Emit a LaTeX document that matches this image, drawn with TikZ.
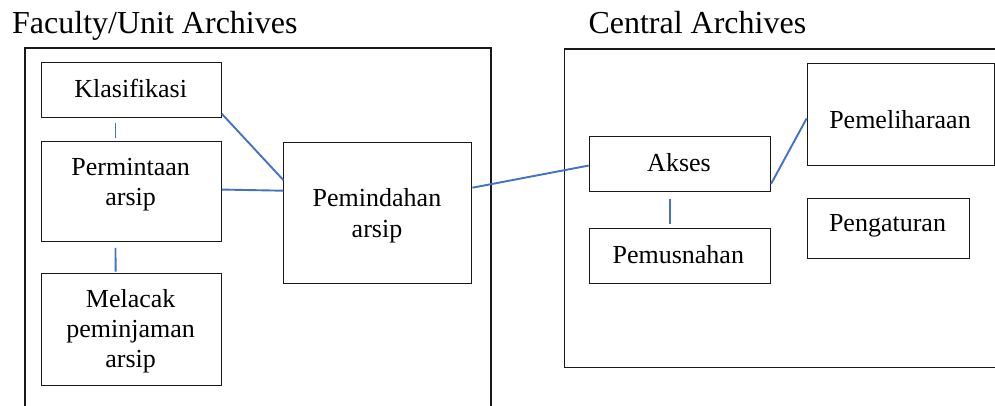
\documentclass[tikz,border=0pt]{standalone}
\usepackage{fontspec}
\setmainfont{Liberation Serif}
\newfontfamily\timesfont{Liberation Serif}
\usetikzlibrary{calc}
\definecolor{linkblue}{HTML}{4472C4}
\tikzset{
  box/.style={draw=black!90, line width=1.1pt, inner sep=0pt, anchor=north west},
  frame/.style={draw=black!90, line width=1.1pt},
  lbl/.style={font=\timesfont\fontsize{26}{30}\selectfont, anchor=base, inner sep=0pt},
  ttl/.style={font=\timesfont\fontsize{32}{36}\selectfont, anchor=base west, inner sep=0pt},
  conn/.style={draw=linkblue, line width=1.9pt}
}
\begin{document}
\begin{tikzpicture}[x=1pt, y=-1pt]
\useasboundingbox (0,0) rectangle (995,405);
% titles
\node[ttl] (t1) at (12,33.3) {Faculty/Unit Archives};
\node[ttl] (t2) at (588.3,33.3) {Central Archives};
% frames
\draw[frame] (25,420) -- (25,48) -- (491,48) -- (491,420);
\draw[frame] (1010,49) -- (564.3,49) -- (564.3,367.7) -- (1010,367.7);
% boxes left
\node[box, minimum width=179.4pt, minimum height=55pt] (kl) at (41.3,62.3) {};
\node[box, minimum width=179.4pt, minimum height=100pt] (pa) at (41.3,141) {};
\node[box, minimum width=179.7pt, minimum height=112pt] (ml) at (41.3,273) {};
\node[box, minimum width=187.4pt, minimum height=141pt] (pm) at (283.3,142.3) {};
% boxes right
\node[box, minimum width=181.3pt, minimum height=55pt] (ak) at (588.7,135.7) {};
\node[box, minimum width=181.3pt, minimum height=55pt] (ps) at (588.7,228.3) {};
\node[box, minimum width=187.3pt, minimum height=101.7pt] (pl) at (806.7,63) {};
\node[box, minimum width=162pt, minimum height=60pt] (pg) at (806.7,197.7) {};
% labels
\node[lbl] (klt) at (130.7,97.7) {Klasifikasi};
\node[lbl] (pat1) at (130.7,175.7) {Permintaan};
\node[lbl] (pat2) at (130.7,205.7) {arsip};
\node[lbl] (mlt1) at (130.7,307) {Melacak};
\node[lbl] (mlt2) at (130.7,337) {peminjaman};
\node[lbl] (mlt3) at (130.7,367) {arsip};
\node[lbl] (pmt1) at (377,206.7) {Pemindahan};
\node[lbl] (pmt2) at (377,237.7) {arsip};
\node[lbl] (akt) at (679,171.7) {Akses};
\node[lbl] (pst) at (678.3,263.3) {Pemusnahan};
\node[lbl] (plt) at (900,128.3) {Pemeliharaan};
\node[lbl] (pgt) at (887.5,231.7) {Pengaturan};
% connectors
\draw[conn, shorten <=5pt, shorten >=3.3pt] ($(kl.south west)!.411!(kl.south east)$) -- ($(pa.north west)!.411!(pa.north east)$);
\draw[conn, shorten <=5.7pt, shorten >=1.3pt] ($(pa.south west)!.411!(pa.south east)$) -- ($(ml.north west)!.411!(ml.north east)$);
\draw[conn] ($(kl.south east)+(0,-4.6)$) -- ($(pm.north west)+(0,37.7)$);
\draw[conn] ($(pa.east)+(0,-2)$) -- ($(pm.north west)+(0,48.4)$);
\draw[conn] ($(pm.north east)+(0.6,45.4)$) -- ($(ak.west)+(0,1.8)$);
\draw[conn, shorten <=7.6pt, shorten >=4pt] ($(ak.south west)!.447!(ak.south east)$) -- ($(ps.north west)!.447!(ps.north east)$);
\draw[conn] ($(ak.south east)+(0,-8)$) -- ($(pl.west)+(0,3.9)$);
\end{tikzpicture}
\end{document}
